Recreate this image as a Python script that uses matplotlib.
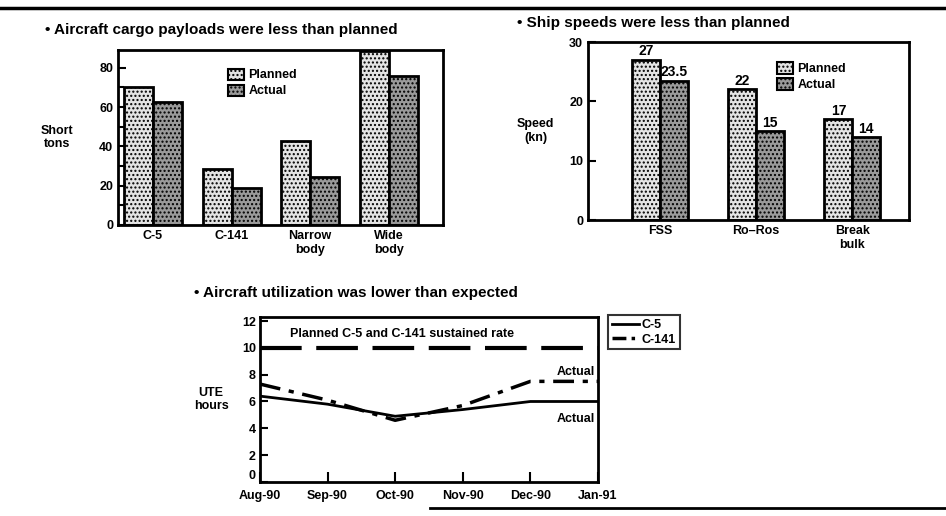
import matplotlib

matplotlib.use("Agg")
import matplotlib.pyplot as plt
from matplotlib.patches import Patch
from matplotlib.lines import Line2D
import numpy as np

plt.rcParams["font.family"] = ["Liberation Sans", "DejaVu Sans"]
plt.rcParams["font.weight"] = "bold"
plt.rcParams["axes.labelweight"] = "bold"
plt.rcParams["hatch.linewidth"] = 1.0

# aircraft cargo payloads (short tons)
aircraft = ["C-5", "C-141", "Narrow\nbody", "Wide\nbody"]
cargo_planned = [70, 28.5, 42.5, 88.5]
cargo_actual = [62.5, 19, 24.5, 76]

# ship speeds (kn)
ships = ["FSS", "Ro\u2013Ros", "Break\nbulk"]
speed_planned = [27, 22, 17]
speed_actual = [23.5, 15, 14]
speed_planned_lbl = ["27", "22", "17"]
speed_actual_lbl = ["23.5", "15", "14"]

# aircraft utilization (UTE hours)
months = ["Aug-90", "Sep-90", "Oct-90", "Nov-90", "Dec-90", "Jan-91"]
ute_c5 = [6.4, 5.8, 4.9, 5.4, 6.0, 6.0]
ute_c141 = [7.3, 6.1, 4.6, 5.7, 7.5, 7.5]
ute_planned = 10

PLAN_FC = "#e4e4e4"
ACT_FC = "#9a9a9a"


def style_axes(ax):
    for s in ax.spines.values():
        s.set_linewidth(2)
    ax.tick_params(axis="y", direction="in", length=6, width=1.5, labelsize=9)
    ax.tick_params(axis="x", length=0, labelsize=9)


def bars(ax, x, planned, actual, w):
    b1 = ax.bar(x - w / 2, planned, w, facecolor=PLAN_FC, edgecolor="black",
                linewidth=2, hatch="....")
    b2 = ax.bar(x + w / 2, actual, w, facecolor=ACT_FC, edgecolor="black",
                linewidth=2, hatch="....")
    return b1, b2


fig = plt.figure(figsize=(9.46, 5.16), dpi=100)

# rules
fig.add_artist(Line2D([0, 1], [0.984, 0.984], color="black", lw=2.5))
fig.add_artist(Line2D([0.455, 1], [0.016, 0.016], color="black", lw=2))

legend_handles = [
    Patch(facecolor=PLAN_FC, edgecolor="black", hatch="....", lw=1.5),
    Patch(facecolor=ACT_FC, edgecolor="black", hatch="....", lw=1.5),
]

# --- cargo payloads
ax1 = fig.add_axes([0.1247, 0.564, 0.3436, 0.339])
x1 = np.arange(len(aircraft))
bars(ax1, x1, cargo_planned, cargo_actual, 0.37)
ax1.set_xlim(-0.446, 3.69)
ax1.set_ylim(0, 89)
ax1.set_yticks([0, 20, 40, 60, 80])
ax1.set_yticks([10, 30, 50, 70], minor=True)
ax1.tick_params(axis="y", which="minor", direction="in", length=4, width=1.5)
ax1.set_xticks(x1, aircraft, linespacing=1.2)
style_axes(ax1)
ax1.set_ylabel("Short\ntons", rotation=0, fontsize=9, ha="center",
               va="center", labelpad=30)
ax1.legend(legend_handles, ["Planned", "Actual"], loc="upper left",
           bbox_to_anchor=(0.32, 0.93), frameon=False, fontsize=9,
           handlelength=1.3, handleheight=1.0, handletextpad=0.3,
           labelspacing=0.25, borderpad=0)
fig.text(0.048, 0.942, "\u2022 Aircraft cargo payloads were less than planned",
         fontsize=11, va="center")

# --- ship speeds
ax2 = fig.add_axes([0.6216, 0.5736, 0.3393, 0.345])
x2 = np.arange(len(ships))
b1, b2 = bars(ax2, x2, speed_planned, speed_actual, 0.29)
ax2.bar_label(b1, speed_planned_lbl, padding=1, fontsize=10)
ax2.bar_label(b2, speed_actual_lbl, padding=1, fontsize=10)
ax2.set_xlim(-0.75, 2.59)
ax2.set_ylim(0, 30)
ax2.set_yticks([0, 10, 20, 30])
ax2.set_xticks(x2, ships, linespacing=1.2)
style_axes(ax2)
ax2.set_ylabel("Speed\n(kn)", rotation=0, fontsize=9, ha="center",
               va="center", labelpad=24)
ax2.legend(legend_handles, ["Planned", "Actual"], loc="upper left",
           bbox_to_anchor=(0.57, 0.92), frameon=False, fontsize=9,
           handlelength=1.3, handleheight=1.0, handletextpad=0.3,
           labelspacing=0.25, borderpad=0)
fig.text(0.546, 0.955, "\u2022 Ship speeds were less than planned",
         fontsize=11, va="center")

# --- utilization
ax3 = fig.add_axes([0.2748, 0.0659, 0.3573, 0.3198])
xm = np.arange(len(months))
ax3.plot(xm, [ute_planned] * len(xm), color="black", lw=3,
         dashes=(10, 3.5), dash_capstyle="butt")
ax3.plot(xm, ute_c5, color="black", lw=2)
ax3.plot(xm, ute_c141, color="black", lw=2.5, dashes=(6, 2.5, 1.5, 2.5))
ax3.set_xlim(0, 5)
ax3.set_ylim(0, 12.3)
ax3.set_yticks(range(0, 13, 2))
ax3.set_xticks(xm, months)
for s in ax3.spines.values():
    s.set_linewidth(2)
ax3.tick_params(axis="y", direction="in", length=6, width=1.5, labelsize=9,
                pad=3)
ax3.tick_params(axis="x", direction="in", length=7, width=1.5, labelsize=9,
                pad=6)
ax3.get_yticklabels()[0].set_va("bottom")
ax3.set_ylabel("UTE\nhours", rotation=0, fontsize=9, ha="center",
               va="center", labelpad=22)
ax3.text(2.1, 11.0, "Planned C-5 and C-141 sustained rate", fontsize=9,
         ha="center", va="center")
ax3.text(4.95, 8.2, "Actual", fontsize=9, ha="right", va="center")
ax3.text(4.95, 4.7, "Actual", fontsize=9, ha="right", va="center")
leg = ax3.legend([Line2D([], [], color="black", lw=2),
                  Line2D([], [], color="black", lw=2.5,
                         dashes=(4, 1.5, 1, 1.5))],
                 ["C-5", "C-141"], loc="upper left",
                 bbox_to_anchor=(1.03, 1.01), fontsize=9, fancybox=False,
                 handlelength=2.2, handletextpad=0.2, borderpad=0.3,
                 labelspacing=0.2, borderaxespad=0)
leg.get_frame().set_edgecolor("black")
leg.get_frame().set_linewidth(1.5)
fig.text(0.205, 0.432, "\u2022 Aircraft utilization was lower than expected",
         fontsize=11, va="center")

fig.savefig("out.png", dpi=100)
